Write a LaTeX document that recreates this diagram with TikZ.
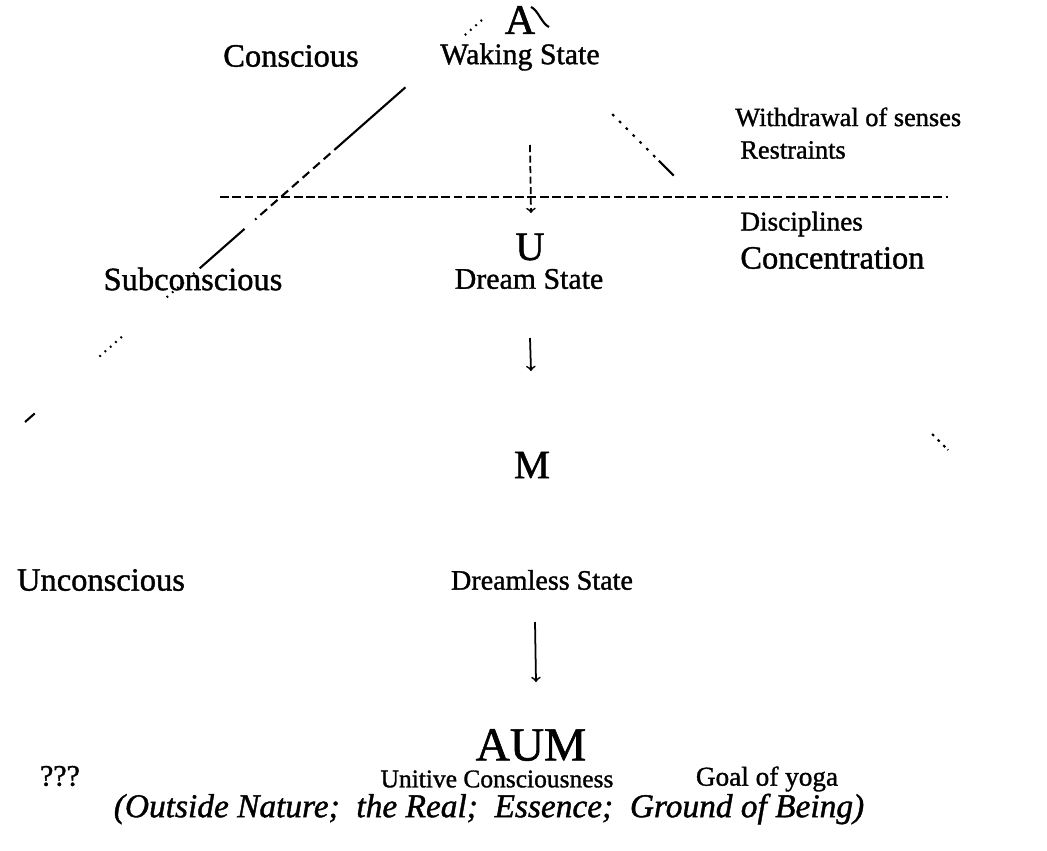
\documentclass[tikz,border=0pt]{standalone}
\usepackage{fontspec}
\setmainfont{Liberation Serif}[FakeBold=1.2, ItalicFeatures={FakeBold=1.2}]
\usepackage{tikz}
\tikzset{
	lbl/.style={font=\fontsize{17}{20}\selectfont, inner sep=0pt},
	lblwide/.style={font=\fontsize{18.5}{21}\selectfont, inner sep=0pt},
	lblnarrow/.style={font=\fontsize{15}{18}\selectfont, inner sep=0pt},
	big/.style={font=\fontsize{25}{28}\selectfont, inner sep=0pt},
	mid/.style={font=\fontsize{23}{26}\selectfont, inner sep=0pt},
	flow/.style={->, line width=1pt},
	scan/.style={line width=1.2pt},
}

\begin{document}
\begin{tikzpicture}[x=0.02cm, y=-0.02cm]
	\useasboundingbox (0,0) rectangle (1047,851);

	\coordinate (L0) at (482,20);
	\coordinate (L1) at (25,422);
	\coordinate (S0) at (531,7);
	\coordinate (S1) at (549,27);
	\coordinate (R0) at (560,62);
	\coordinate (R1) at (948,450);
	\coordinate (H0) at (220,197);
	\coordinate (H1) at (948,197);
	\coordinate (W0) at (530,145);
	\coordinate (W1) at (531,213);
	\coordinate (D0) at (530,338);
	\coordinate (D1) at (531,371);
	\coordinate (N0) at (535,622);
	\coordinate (N1) at (536,682);

	% broken sides of the triangle
	\draw [scan, dash pattern=on 1pt off 3pt on 1pt off 3pt on 1pt off 3pt on 1pt off 45pt on 54pt off 3pt on 5pt off 3pt on 5pt off 3pt on 5pt off 3pt on 5pt off 3pt on 5pt off 3pt on 5pt off 3pt on 5pt off 3pt on 1pt off 8pt on 34pt off 4pt on 1pt off 3pt on 1pt off 3pt on 1pt off 3pt on 1pt off 3pt on 1pt off 3pt on 1pt off 34pt on 1pt off 3pt on 1pt off 3pt on 1pt off 3pt on 1pt off 3pt on 1pt off 49pt on 8pt off 20pt] (L0) - - (L1);
	\draw [scan] (S0) .. controls (538,10) and (542,24) .. (S1);
	\draw [scan, dash pattern=on 0pt off 42pt on 1.5pt off 4pt on 1.5pt off 4pt on 1.5pt off 4pt on 1.5pt off 4pt on 1.5pt off 4pt on 1.5pt off 4pt on 1.5pt off 3pt on 12pt off 208pt on 1.5pt off 3pt on 1.5pt off 3pt on 1.5pt off 2pt on 4pt off 20pt] (R0) - - (R1);

	\draw [scan, line width=1.4pt, dash pattern=on 5pt off 2pt] (H0) - - (H1);

	\draw [flow, dash pattern=on 4pt off 2pt] (W0) - - (W1);
	\draw [flow] (D0) - - (D1);
	\draw [flow] (N0) - - (N1);

	\node [big, font=\fontsize{24}{27}\selectfont] (a) at (520,20) {A};
	\node [lbl] (waking) at (520,57) {Waking State};
	\node [lblwide] (conscious) at (291,56) {Conscious};
	\node [lblnarrow, anchor=west] (withdraw) at (735,117) {Withdrawal of senses};
	\node [lblnarrow, anchor=west] (restraint) at (740,150) {Restraints};
	\node [lblnarrow, font=\fontsize{15.5}{18}\selectfont, anchor=west] (discipline) at (740,224) {Disciplines};
	\node [lblwide, anchor=west] (concentr) at (740,258) {Concentration};
	\node [mid] (u) at (530,247) {U};
	\node [lbl] (dream) at (529,279) {Dream State};
	\node [lblwide] (subcon) at (193,279) {Subconscious};
	\node [mid] (m) at (532,465) {M};
	\node [lblwide] (uncon) at (101,580) {Unconscious};
	\node [lbl, font=\fontsize{16}{19}\selectfont] (dreamless) at (542,580) {Dreamless State};
	\node [big, font=\fontsize{27}{30}\selectfont] (aum) at (531,745) {AUM};
	\node [lbl] (qqq) at (60,776) {???};
	\node [lblnarrow, font=\fontsize{14.5}{17}\selectfont] (unitive) at (497,779) {Unitive Consciousness};
	\node [lblnarrow, font=\fontsize{15.5}{18}\selectfont] (goal) at (767,779) {Goal of yoga};
	\node [inner sep=0pt, font=\fontsize{19}{21}\selectfont\itshape] (ground) at (489,809) {(Outside Nature;\ \ the Real;\ \ Essence;\ \ Ground of Being)};
\end{tikzpicture}
\end{document}
